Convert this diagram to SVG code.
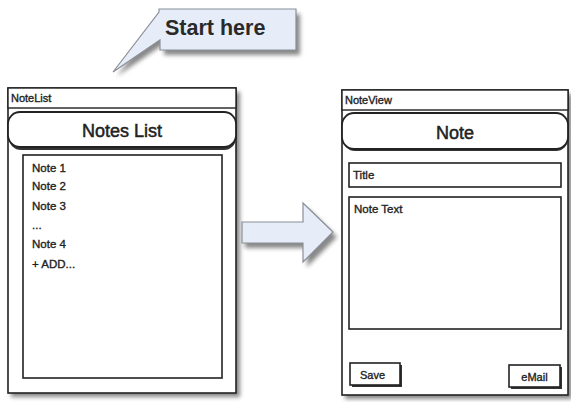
<svg xmlns="http://www.w3.org/2000/svg" width="571" height="402" viewBox="0 0 571 402">
<defs>
<filter id="sh" x="-20%" y="-20%" width="140%" height="140%">
<feGaussianBlur stdDeviation="2"/>
</filter>
<style>
.frame{fill:#fff;stroke:#222;stroke-width:1.6}
.shadow{fill:#555;filter:url(#sh);opacity:0.7}
.bar{fill:#fff;stroke:#222;stroke-width:1.4}
.hdr{fill:#fff;stroke:#222;stroke-width:1.8}
.box{fill:#fff;stroke:#222;stroke-width:1.6}
.btn{fill:#fff;stroke:#222;stroke-width:1.6}
.t{font-family:"Liberation Sans",Arial,sans-serif;fill:#222;stroke:#222;stroke-width:0.35}
.small{font-size:11px}
.item{font-size:11.5px}
.head{font-size:18px;stroke-width:0.5}
.blue{fill:#e6edf8;stroke:#8a8f98;stroke-width:1.2}
</style>
</defs>

<g id="callout">
<path class="shadow" d="M163,14 L300,14 L300,55 L164,55 L164,44 L117,76 L162,16 Z"/>
<path class="blue" d="M159,9 L296,9 L296,50 L160,50 L160,40 L113,72 L159,12 Z"/>
<text x="165" y="35" font-family="Liberation Sans,Arial,sans-serif" font-size="21.5" font-weight="bold" fill="#2a2a2a">Start here</text>
</g>

<g id="notelist">
<rect class="shadow" x="11" y="92" width="229" height="305"/>
<rect class="frame" x="8" y="88" width="228" height="305"/>
<rect class="bar" x="8" y="88" width="228" height="20"/>
<text class="t small" x="11" y="102">NoteList</text>
<rect x="9" y="114" width="227" height="36" rx="12" fill="#333"/>
<rect class="hdr" x="8" y="112" width="228" height="35" rx="12"/>
<text class="t head" x="122" y="137" text-anchor="middle">Notes List</text>
<rect class="box" x="23" y="155" width="199" height="223"/>
<text class="t item" x="32" y="172">Note 1</text>
<text class="t item" x="32" y="190">Note 2</text>
<text class="t item" x="32" y="210">Note 3</text>
<text class="t item" x="32" y="229">...</text>
<text class="t item" x="32" y="248">Note 4</text>
<text class="t item" x="32" y="268">+ ADD...</text>
</g>

<g id="connectors">
<path class="shadow" d="M245,227 L307,227 L307,208 L337,237 L307,267 L307,248 L245,248 Z"/>
<path class="blue" d="M242,222 L303,222 L303,203 L333,232 L303,262 L303,243 L242,243 Z"/>
</g>

<g id="noteview">
<rect class="shadow" x="345" y="94" width="227" height="305"/>
<rect class="frame" x="342" y="90" width="226" height="305"/>
<rect class="bar" x="342" y="90" width="226" height="20"/>
<text class="t small" x="345" y="104">NoteView</text>
<rect x="343" y="115" width="225" height="36" rx="12" fill="#333"/>
<rect class="hdr" x="342" y="113" width="226" height="36" rx="12"/>
<text class="t head" x="455" y="139" text-anchor="middle">Note</text>
<rect class="box" x="349" y="163" width="212" height="24"/>
<text class="t item" x="353" y="179">Title</text>
<rect class="box" x="349" y="197" width="212" height="132"/>
<text class="t item" x="354" y="213">Note Text</text>
<rect x="352" y="365" width="50" height="22" fill="#333"/>
<rect class="btn" x="350" y="363" width="50" height="22"/>
<text class="t small" x="360" y="379">Save</text>
<rect x="511" y="367" width="51" height="22" fill="#333"/>
<rect class="btn" x="509" y="365" width="51" height="22"/>
<text class="t small" x="534.5" y="381" text-anchor="middle">eMail</text>
</g>
</svg>
